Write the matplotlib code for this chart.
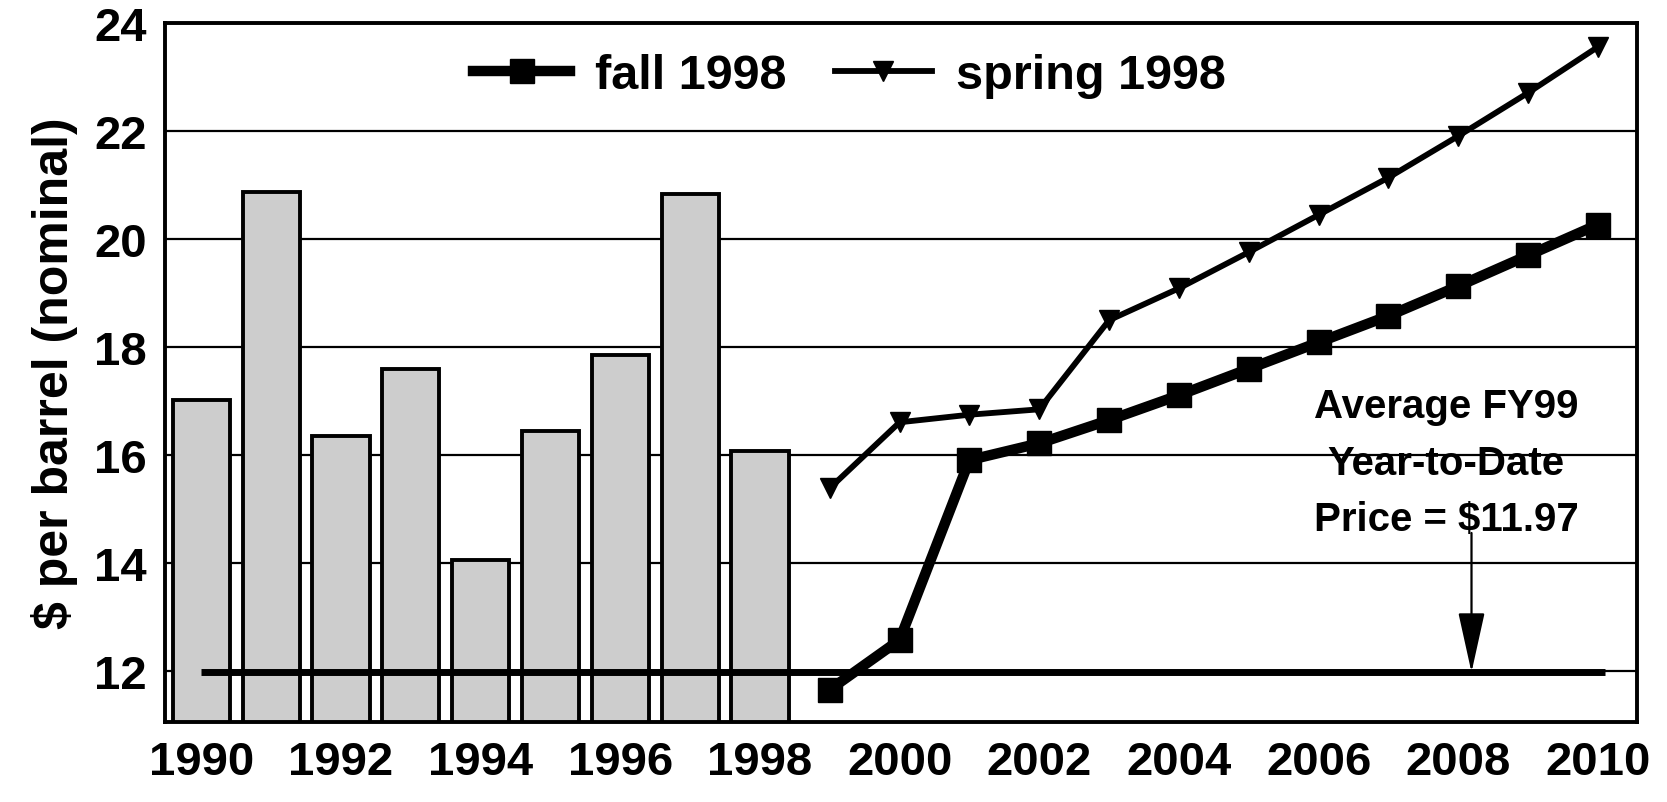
import matplotlib
matplotlib.use("Agg")
import matplotlib.pyplot as plt

# historical prices (bars)
bar_years = [1990, 1991, 1992, 1993, 1994, 1995, 1996, 1997, 1998]
bar_prices = [17.02, 20.87, 16.35, 17.59, 14.05, 16.43, 17.84, 20.83, 16.07]

# forecasts
fc_years = [1999, 2000, 2001, 2002, 2003, 2004, 2005, 2006, 2007, 2008, 2009, 2010]
fall_1998 = [11.65, 12.57, 15.90, 16.21, 16.64, 17.10, 17.59, 18.08, 18.57, 19.12, 19.69, 20.26]
spring_1998 = [15.38, 16.60, 16.74, 16.84, 18.49, 19.08, 19.75, 20.44, 21.13, 21.90, 22.70, 23.55]

avg_price = 11.97
avg_span = [1990, 2010.1]
xtick_years = [1990, 1992, 1994, 1996, 1998, 2000, 2002, 2004, 2006, 2008, 2010]
ytick_values = [12, 14, 16, 18, 20, 22, 24]
note_lines = ["Average FY99", "Year-to-Date", "Price = $11.97"]

plt.rcParams['font.family'] = ['Liberation Sans', 'DejaVu Sans']
plt.rcParams['font.weight'] = 'bold'

fig = plt.figure(figsize=(16.67, 8.03), dpi=100)
ax = fig.add_axes([0.099, 0.0996, 0.883, 0.871])

ax.bar(bar_years, bar_prices, width=0.82, color='#cdcdcd',
       edgecolor='black', linewidth=2.8, zorder=2)

ax.plot(fc_years, fall_1998, color='black', lw=7.5, marker='s',
        markersize=17, label='fall 1998', zorder=4)
ax.plot(fc_years, spring_1998, color='black', lw=4.2, marker='v',
        markersize=14, label='spring 1998', zorder=4)

# average year-to-date price line
ax.plot(avg_span, [avg_price, avg_price], color='black', lw=5,
        solid_capstyle='butt', zorder=3)

ax.annotate('', xy=(2008.19, avg_price), xytext=(2008.19, 14.55),
            arrowprops=dict(arrowstyle='-|>,head_length=1.9,head_width=0.42',
                            color='black', lw=1.6, shrinkA=0, shrinkB=0,
                            mutation_scale=20), zorder=5)
for txt, yv in zip(note_lines, [16.9, 15.84, 14.8]):
    ax.text(2007.83, yv, txt, ha='center', va='center', fontsize=29,
            fontweight='bold', zorder=5)

ax.set_xlim(1989.48, 2010.56)
ax.set_ylim(11.05, 24)
ax.set_xticks(xtick_years)
ax.set_yticks(ytick_values)
ax.tick_params(axis='both', length=0, labelsize=34, pad=13)
for lab in ax.get_xticklabels() + ax.get_yticklabels():
    lab.set_fontweight('bold')

ax.yaxis.grid(True, color='black', lw=1.6)
ax.set_axisbelow(True)
for sp in ax.spines.values():
    sp.set_linewidth(2.8)

ax.set_ylabel('$ per barrel (nominal)', fontsize=36, fontweight='bold', labelpad=12)

ax.legend(loc='center', bbox_to_anchor=(0.465, 0.924), ncol=2, frameon=False,
          handlelength=2.0, columnspacing=1.0, handletextpad=0.5,
          prop={'weight': 'bold', 'size': 35})

fig.savefig('out.png', dpi=100)
